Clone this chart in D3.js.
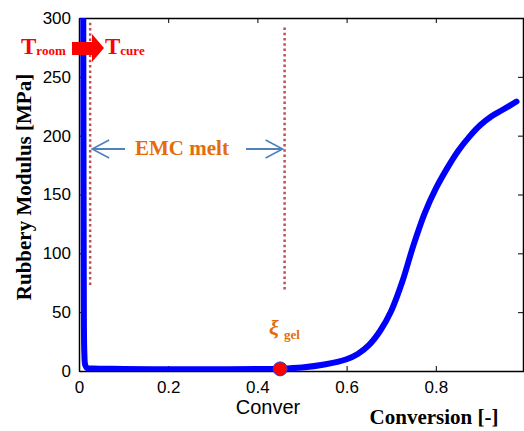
<!DOCTYPE html>
<html>
<head>
<meta charset="utf-8">
<script src="https://cdn.jsdelivr.net/npm/d3@7"></script>
<style>
  html, body { margin: 0; padding: 0; background: #fff; }
  svg { display: block; }
</style>
</head>
<body>
<svg id="chart" width="524" height="431"></svg>
<script>
// Rubbery modulus vs. degree of conversion
const conversion = [0.0095, 0.010, 0.0105, 0.011, 0.012, 0.014, 0.018, 0.03, 0.1, 0.2, 0.3, 0.4, 0.45, 0.5, 0.55, 0.6, 0.625, 0.65, 0.675, 0.7, 0.725, 0.75, 0.775, 0.8, 0.825, 0.85, 0.875, 0.9, 0.925, 0.95, 0.981];
const modulus    = [320,    200,   100,    40,    15,    5,     2.6,   2.1,  1.8, 1.5, 1.5, 1.7, 2,    3,   5.5,  10,  14.5,  22,   34,    51,  76,    107,  134,   155, 172,   187,  199,   209, 216.5, 222,  229];

const xTicks = [0, 0.2, 0.4, 0.6, 0.8, 1];
const yTicks = [0, 50, 100, 150, 200, 250, 300];

const gelPoint = { x: 0.451, y: 1.8 };
const meltStart = 0.025;   // dotted marker, start of EMC melt window
const meltEnd = 0.461;     // dotted marker, end of EMC melt window

const svg = d3.select("#chart");
const plotL = 79, plotR = 525, plotT = 18, plotB = 371;

const x = d3.scaleLinear().domain([0, 1]).range([plotL, plotR]);
const y = d3.scaleLinear().domain([0, 300]).range([plotB, plotT]);

const tickFont = "'Liberation Sans', Arial, sans-serif";
const serif = "'Liberation Serif', 'Times New Roman', serif";

// clip for plotted data
svg.append("clipPath").attr("id", "plotClip")
  .append("rect").attr("x", plotL).attr("y", plotT).attr("width", plotR - plotL).attr("height", plotB - plotT);

// axes (inward ticks, box style)
const axB = svg.append("g").attr("transform", `translate(0,${plotB})`)
  .call(d3.axisBottom(x).tickValues(xTicks).tickSizeInner(-5).tickSizeOuter(0).tickPadding(10)
        .tickFormat(d => d === 1 ? "" : d3.format("")(d)));
const axT = svg.append("g").attr("transform", `translate(0,${plotT})`)
  .call(d3.axisTop(x).tickValues(xTicks).tickSizeInner(-5).tickSizeOuter(0).tickFormat(""));
const axL = svg.append("g").attr("transform", `translate(${plotL},0)`)
  .call(d3.axisLeft(y).tickValues(yTicks).tickSizeInner(-5).tickSizeOuter(0).tickPadding(8));
const axR = svg.append("g").attr("transform", `translate(${plotR - 2},0)`)
  .call(d3.axisRight(y).tickValues(yTicks).tickSizeInner(-5).tickSizeOuter(0).tickFormat(""));

[axB, axT, axL, axR].forEach(g => {
  g.select(".domain").attr("stroke", "#000").attr("stroke-width", 1.5);
  g.selectAll(".tick line").attr("stroke", "#000").attr("stroke-width", 1);
  g.selectAll("text").attr("font-family", tickFont).attr("font-size", 17).attr("fill", "#000");
});
axB.selectAll("text").attr("dy", "0.71em");

// dotted markers for the EMC melt window
svg.append("line")
  .attr("x1", x(meltStart)).attr("x2", x(meltStart))
  .attr("y1", y(296)).attr("y2", y(71))
  .attr("stroke", "#c0504d").attr("stroke-width", 2.5).attr("stroke-dasharray", "2.5,2.8");
svg.append("line")
  .attr("x1", x(meltEnd)).attr("x2", x(meltEnd))
  .attr("y1", y(292)).attr("y2", y(68))
  .attr("stroke", "#c0504d").attr("stroke-width", 2.5).attr("stroke-dasharray", "2.5,2.8");

// modulus curve
const pts = conversion.map((c, i) => [c, modulus[i]]);
svg.append("path")
  .datum(pts)
  .attr("clip-path", "url(#plotClip)")
  .attr("fill", "none")
  .attr("stroke", "#0000ff")
  .attr("stroke-width", 6)
  .attr("stroke-linejoin", "round")
  .attr("stroke-linecap", "round")
  .attr("d", d3.line().x(d => x(d[0])).y(d => y(d[1])).curve(d3.curveCatmullRom.alpha(0.5)));

// gel point
svg.append("circle")
  .attr("cx", x(gelPoint.x)).attr("cy", y(gelPoint.y)).attr("r", 7)
  .attr("fill", "#ff0000").attr("stroke", "#2a3bd8").attr("stroke-width", 1);

// EMC melt annotation with double arrows
const arrowBlue = "#4f81bd";
const ay = 149;
function chevron(xTip, dir) {
  svg.append("path")
    .attr("d", `M${xTip + dir * 17},${ay - 9} L${xTip},${ay} L${xTip + dir * 17},${ay + 9}`)
    .attr("fill", "none").attr("stroke", arrowBlue).attr("stroke-width", 1.6);
}
svg.append("line").attr("x1", x(meltStart) + 2).attr("x2", 125).attr("y1", ay).attr("y2", ay)
  .attr("stroke", arrowBlue).attr("stroke-width", 2);
chevron(x(meltStart) + 2, 1);
svg.append("line").attr("x1", 246).attr("x2", x(meltEnd) - 2).attr("y1", ay).attr("y2", ay)
  .attr("stroke", arrowBlue).attr("stroke-width", 2);
chevron(x(meltEnd) - 2, -1);

svg.append("text").attr("x", 182).attr("y", 155).attr("text-anchor", "middle")
  .attr("font-family", serif).attr("font-weight", "bold").attr("font-size", 21)
  .attr("fill", "#e46c0a").text("EMC melt");

// gel label
const gel = svg.append("text").attr("x", 269).attr("y", 335)
  .attr("font-family", serif).attr("font-weight", "bold").attr("fill", "#e46c0a");
gel.append("tspan").attr("font-size", 22).attr("font-style", "italic").text("ξ");
gel.append("tspan").attr("font-size", 13).attr("dx", 5).attr("dy", 4).text("gel");

// T_room -> T_cure
const tr = svg.append("text").attr("x", 21).attr("y", 54)
  .attr("font-family", serif).attr("font-weight", "bold").attr("fill", "#ff0000");
tr.append("tspan").attr("font-size", 23).text("T");
tr.append("tspan").attr("font-size", 13).attr("dy", 1).text("room");
svg.append("path")
  .attr("d", "M72,42 L92,42 L92,34 L104,48 L92,62 L92,55 L72,55 Z")
  .attr("fill", "#ff0000");
const tc = svg.append("text").attr("x", 105).attr("y", 54)
  .attr("font-family", serif).attr("font-weight", "bold").attr("fill", "#ff0000");
tc.append("tspan").attr("font-size", 23).text("T");
tc.append("tspan").attr("font-size", 13).attr("dy", 1).text("cure");

// axis titles
svg.append("text").attr("x", 268).attr("y", 414).attr("text-anchor", "middle")
  .attr("font-family", tickFont).attr("font-size", 20).attr("fill", "#000").text("Conver");
svg.append("text").attr("x", 434).attr("y", 424).attr("text-anchor", "middle")
  .attr("font-family", serif).attr("font-weight", "bold").attr("font-size", 21)
  .attr("fill", "#000").text("Conversion [-]");
svg.append("text").attr("transform", "translate(31,187) rotate(-90)").attr("text-anchor", "middle")
  .attr("font-family", serif).attr("font-weight", "bold").attr("font-size", 21)
  .attr("fill", "#000").text("Rubbery Modulus [MPa]");
</script>
</body>
</html>
